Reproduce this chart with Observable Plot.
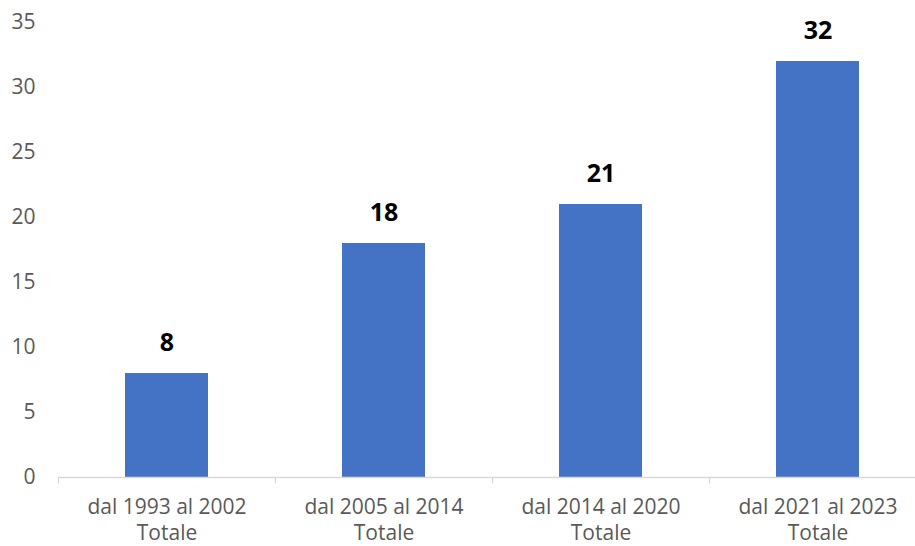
<!DOCTYPE html>
<html>
<head>
<meta charset="utf-8">
<script src="https://cdn.jsdelivr.net/npm/d3@7"></script>
<script src="https://cdn.jsdelivr.net/npm/@observablehq/plot@0.6"></script>
<style>
  html, body { margin: 0; padding: 0; background: #fff; }
  svg { display: block; }
</style>
</head>
<body>
<div id="chart"></div>
<script>
const categories = ["dal 1993 al 2002", "dal 2005 al 2014", "dal 2014 al 2020", "dal 2021 al 2023"];
const subLabel = "Totale";
const values = [8, 18, 21, 32];
const yTicks = [0, 5, 10, 15, 20, 25, 30, 35];

const data = categories.map((c, i) => ({ cat: c, value: values[i] }));

const W = 915, H = 546;
const x0 = 58, x1 = 926;
const step = (x1 - x0) / categories.length;

const chart = Plot.plot({
  width: W,
  height: H,
  marginTop: 22,
  marginBottom: 69,
  marginLeft: 58,
  marginRight: 0,
  style: { fontFamily: "'Open Sans', sans-serif", background: "#fff", overflow: "visible" },
  x: { domain: categories, range: [x0, x1], paddingInner: 0.618, paddingOuter: 0.309 },
  y: { domain: [0, 35], ticks: yTicks },
  marks: [
    Plot.barY(data, { x: "cat", y: "value", fill: "#4472C4" }),
    Plot.ruleY([0], { stroke: "#d9d9d9", strokeWidth: 1.3 }),
    Plot.ruleX(categories, { x: d => d, dx: -step / 2, y1: 0, y2: -0.5, stroke: "#d9d9d9", strokeWidth: 1.3, clip: false }),
    Plot.text(data, { x: "cat", y: "value", text: d => String(d.value), dy: -31, fontSize: 25, fontWeight: "bold", fill: "#000" }),
    Plot.axisY({ ticks: yTicks, tickSize: 0, tickPadding: 23, fontSize: 21, fill: "#595959", label: null }),
    Plot.axisX({ tickSize: 0, tickPadding: 17, fontSize: 21, fill: "#595959", label: null, lineHeight: 1.28,
                 tickFormat: d => d + "\n" + subLabel })
  ]
});

document.getElementById("chart").appendChild(chart);
</script>
</body>
</html>
